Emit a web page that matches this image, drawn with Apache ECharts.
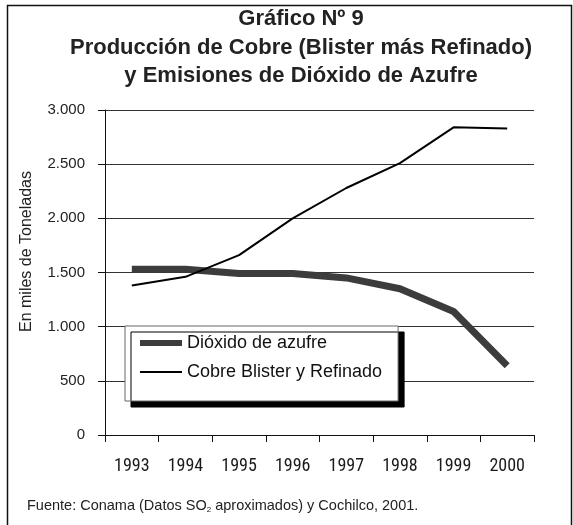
<!DOCTYPE html>
<html>
<head>
<meta charset="utf-8">
<script src="https://cdn.jsdelivr.net/npm/echarts@6/dist/echarts.min.js"></script>
<style>
  html, body { margin: 0; padding: 0; background: #fff; }
</style>
</head>
<body>
<div id="chart" style="width:573px;height:525px;"></div>
<script>
var years = ['1993', '1994', '1995', '1996', '1997', '1998', '1999', '2000'];
var dioxido = [1530, 1530, 1490, 1490, 1450, 1350, 1140, 640];
var cobre = [1380, 1460, 1660, 2000, 2280, 2510, 2840, 2830];

var chartDom = document.getElementById('chart');
var myChart = echarts.init(chartDom);
var option;

function fmt(v) {
    // 3000 -> 3.000
    return String(v).replace(/\B(?=(\d{3})+(?!\d))/g, '.');
}

// legend icons: thick bar / thin line inside a 42x14 box
var iconThick = 'path://M0,0M42,14M0,4h42v6h-42z';
var iconThin = 'path://M0,0M42,14M0,6h42v2h-42z';

option = {
    animation: false,
    textStyle: { fontFamily: 'Liberation Sans, Arial, sans-serif', color: '#222' },
    graphic: [
        {
            type: 'rect',
            shape: { x: 7.5, y: 5.5, width: 564, height: 540 },
            style: { fill: 'none', stroke: '#111', lineWidth: 1.5 },
            silent: true
        },
        {
            type: 'text',
            left: 27,
            top: 498,
            style: {
                text: '{a|Fuente: Conama (Datos SO}{s|2}{a| aproximados) y Cochilco, 2001.}',
                rich: {
                    a: { fontSize: 14.5, fontFamily: 'Liberation Sans', fill: '#222' },
                    s: { fontSize: 8, fontFamily: 'Liberation Sans', fill: '#222', padding: [8, 0, 0, 0] }
                }
            }
        }
    ],
    title: {
        text: 'Gráfico Nº 9\nProducción de Cobre (Blister más Refinado)\ny Emisiones de Dióxido de Azufre',
        left: 296,
        textAlign: 'center',
        top: 0,
        textStyle: {
            fontSize: 22,
            fontWeight: 'bold',
            lineHeight: 28.5,
            fontFamily: 'Liberation Sans',
            color: '#222'
        }
    },
    legend: {
        orient: 'vertical',
        left: 125,
        top: 326,
        padding: [8, 16, 20, 15],
        itemGap: 11,
        itemWidth: 42,
        itemHeight: 14,
        backgroundColor: '#fff',
        borderColor: '#666',
        borderWidth: 1,
        borderRadius: 0,
        shadowColor: '#000',
        shadowBlur: 0,
        shadowOffsetX: 6,
        shadowOffsetY: 6,
        itemStyle: { borderWidth: 0 },
        textStyle: { fontSize: 18, lineHeight: 18, fontFamily: 'Liberation Sans', color: '#111' },
        data: [
            { name: 'Dióxido de azufre', icon: iconThick },
            { name: 'Cobre Blister y Refinado', icon: iconThin }
        ]
    },
    grid: {
        left: 105,
        right: 39,
        top: 110,
        bottom: 90
    },
    xAxis: {
        type: 'category',
        data: years,
        boundaryGap: true,
        axisLine: { lineStyle: { color: '#111', width: 1 } },
        axisTick: { show: true, length: 7, lineStyle: { color: '#111' } },
        axisLabel: {
            margin: 22,
            fontSize: 18,
            fontFamily: 'Roboto Condensed',
            color: '#1a1a1a'
        }
    },
    yAxis: {
        type: 'value',
        min: 0,
        max: 3000,
        interval: 500,
        name: 'En miles de Toneladas',
        nameLocation: 'middle',
        nameGap: 70,
        nameTextStyle: { fontSize: 16, fontFamily: 'Liberation Sans', color: '#222', padding: [0, 0, 0, 42] },
        axisLine: { show: true, lineStyle: { color: '#111', width: 1 } },
        axisTick: { show: true, length: 7, lineStyle: { color: '#111' } },
        splitLine: { lineStyle: { color: '#333', width: 1 } },
        axisLabel: {
            margin: 20,
            fontSize: 15,
            fontFamily: 'Liberation Sans',
            color: '#222',
            formatter: function (v) { return fmt(v); }
        }
    },
    series: [
        {
            name: 'Dióxido de azufre',
            type: 'line',
            symbol: 'none',
            data: dioxido,
            itemStyle: { color: '#3c3c3c' },
            lineStyle: { color: '#3c3c3c', width: 7 },
            z: 2
        },
        {
            name: 'Cobre Blister y Refinado',
            type: 'line',
            symbol: 'none',
            data: cobre,
            itemStyle: { color: '#000' },
            lineStyle: { color: '#000', width: 2 },
            z: 3
        }
    ]
};

option && myChart.setOption(option);
</script>
</body>
</html>
